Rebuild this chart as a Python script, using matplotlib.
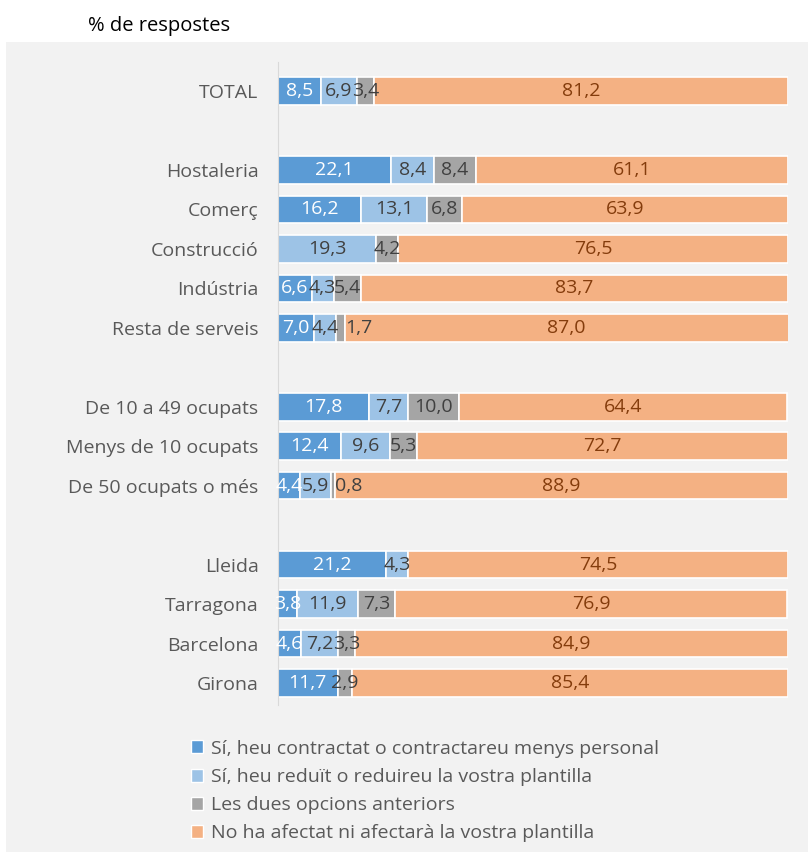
import matplotlib.pyplot as plt
from matplotlib.patches import Rectangle, Patch

# Categories (top to bottom) and their row positions (blank rows between groups)
categories = ['TOTAL', 'Hostaleria', 'Comerç', 'Construcció', 'Indústria', 'Resta de serveis',
              'De 10 a 49 ocupats', 'Menys de 10 ocupats', 'De 50 ocupats o més',
              'Lleida', 'Tarragona', 'Barcelona', 'Girona']
rows = [0, 2, 3, 4, 5, 6, 8, 9, 10, 12, 13, 14, 15]

# Series values (%), 0 = no segment
contractat = [8.5, 22.1, 16.2, 0, 6.6, 7.0, 17.8, 12.4, 4.4, 21.2, 3.8, 4.6, 11.7]
reduit = [6.9, 8.4, 13.1, 19.3, 4.3, 4.4, 7.7, 9.6, 5.9, 4.3, 11.9, 7.2, 0]
dues = [3.4, 8.4, 6.8, 4.2, 5.4, 1.7, 10.0, 5.3, 0.8, 0, 7.3, 3.3, 2.9]
no_afectat = [81.2, 61.1, 63.9, 76.5, 83.7, 87.0, 64.4, 72.7, 88.9, 74.5, 76.9, 84.9, 85.4]

series_names = ['Sí, heu contractat o contractareu menys personal',
                'Sí, heu reduït o reduireu la vostra plantilla',
                'Les dues opcions anteriors',
                'No ha afectat ni afectarà la vostra plantilla']
colors = ['#5B9BD5', '#9DC3E6', '#A5A5A5', '#F4B183']
text_colors = ['white', '#404040', '#404040', '#843C0C']

plt.rcParams['font.family'] = ['Open Sans', 'DejaVu Sans']

W, H = 808, 852
fig = plt.figure(figsize=(W / 100, H / 100), dpi=100)
fig.patch.set_facecolor('white')
fig.patches.append(Rectangle((6 / W, 0), 1 - 6 / W, 1 - 42 / H, transform=fig.transFigure,
                             facecolor='#F2F2F2', edgecolor='none', zorder=-5))
fig.text(88 / W, 1 - 26 / H, '% de respostes', fontsize=14.5, color='black', va='center')

left, right = 278 / W, 788 / W
top_px, bot_px = 62, 705
ax = fig.add_axes([left, 1 - bot_px / H, right - left, (bot_px - top_px) / H])
ax.set_facecolor('none')
ax.set_zorder(2)

row_px = (683 - 91) / 15
ax.set_ylim(15 + (bot_px - 683) / row_px, -(91 - top_px) / row_px)
ax.set_xlim(0, 100)

all_series = [contractat, reduit, dues, no_afectat]
starts = [0.0] * len(categories)
for vals, col, tcol, name in zip(all_series, colors, text_colors, series_names):
    ax.barh(rows, vals, left=starts, height=0.7, color=col, edgecolor='white',
            linewidth=1.2, label=name)
    for r, s, v in zip(rows, starts, vals):
        if v <= 0:
            continue
        lab = f'{v:.1f}'.replace('.', ',')
        if v < 2:
            # tiny segment: label just after it
            ax.text(s + v + 0.1, r, lab, ha='left', va='center', fontsize=14, color=tcol)
        else:
            ax.text(s + v / 2, r, lab, ha='center', va='center', fontsize=14, color=tcol)
    starts = [s + v for s, v in zip(starts, vals)]

ax.set_yticks(rows)
ax.set_yticklabels(categories, fontsize=14, color='#595959')
ax.tick_params(axis='y', length=0, pad=14)
ax.xaxis.set_visible(False)
for sp in ['top', 'right', 'bottom']:
    ax.spines[sp].set_visible(False)
ax.spines['left'].set_color('#D9D9D9')

handles = [Patch(facecolor=c, edgecolor='white') for c in colors]
fig.legend(handles, series_names, loc='upper left', bbox_to_anchor=(183 / W, 1 - 732 / H),
           frameon=False, fontsize=14, labelcolor='#595959', handlelength=0.65,
           handleheight=0.65, handletextpad=0.4, labelspacing=0.52, borderaxespad=0)

plt.savefig('out.png', dpi=100)
